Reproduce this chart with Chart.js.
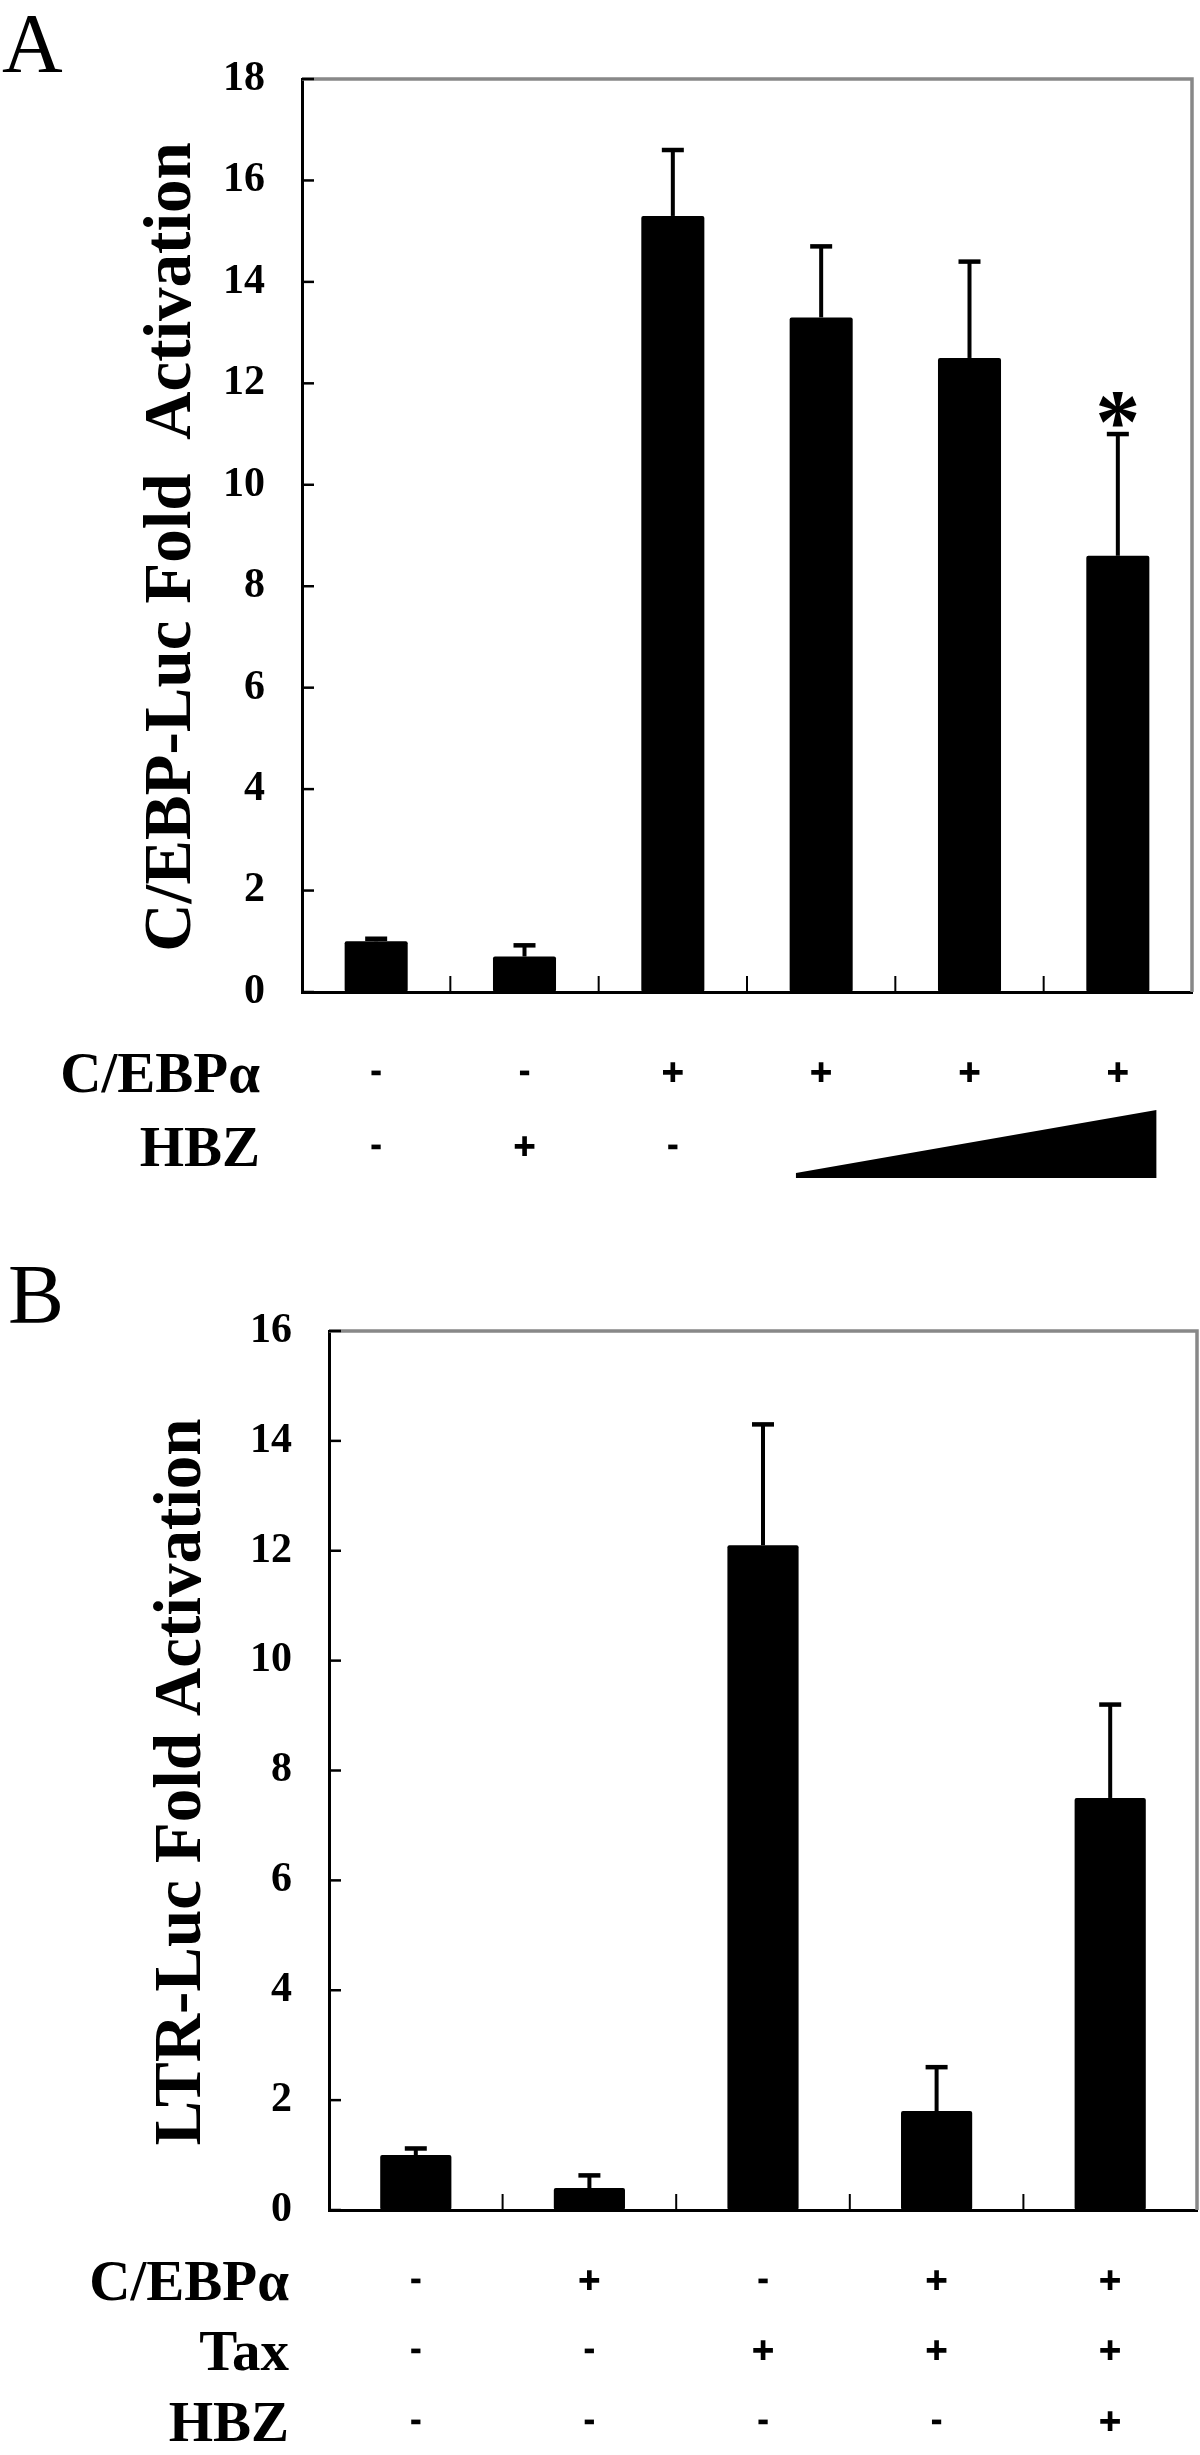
<!DOCTYPE html>
<html>
<head>
<meta charset="utf-8">
<title>C/EBP-Luc and LTR-Luc fold activation</title>
<script src="https://cdn.jsdelivr.net/npm/chart.js@4.4.1/dist/chart.umd.min.js"></script>
<style>
  html, body { margin: 0; padding: 0; background: #fff; }
  #wrap { position: relative; width: 1200px; height: 2455px; }
  canvas { position: absolute; left: 0; }
  #chartA { top: 0; }
  #chartB { top: 1230px; }
</style>
</head>
<body>
<div id="wrap">
  <canvas id="chartA" width="1200" height="1230"></canvas>
  <canvas id="chartB" width="1200" height="1225"></canvas>
</div>
<script>
// Panel A values
const groupsA = ["1", "2", "3", "4", "5", "6"];
const valuesA = [1.0, 0.7, 15.3, 13.3, 12.5, 8.6];
const errorsA = [0.05, 0.22, 1.3, 1.4, 1.9, 2.4];
const cebpRowA = ["-", "-", "+", "+", "+", "+"];
const hbzRowA = ["-", "+", "-", "", "", ""];
const starsA = [false, false, false, false, false, true];
const yMaxA = 18;

// Panel B values
const groupsB = ["1", "2", "3", "4", "5"];
const valuesB = [1.0, 0.4, 12.1, 1.8, 7.5];
const errorsB = [0.12, 0.23, 2.2, 0.8, 1.7];
const cebpRowB = ["-", "+", "-", "+", "+"];
const taxRowB = ["-", "-", "+", "+", "+"];
const hbzRowB = ["-", "-", "-", "-", "+"];
const yMaxB = 16;

const serif = "'Liberation Serif', 'Times New Roman', serif";

// draw a glyph so its ink box has the given width, centred on (cx, cy)
function drawGlyph(ctx, ch, cx, cy, inkWidth, extra) {
    ctx.font = "bold 100px " + serif;
    const m = ctx.measureText(ch);
    const w = m.actualBoundingBoxRight + m.actualBoundingBoxLeft;
    const size = Math.round(100 * inkWidth / w);
    ctx.font = "bold " + size + "px " + serif;
    const m2 = ctx.measureText(ch);
    ctx.textAlign = "center";
    ctx.textBaseline = "alphabetic";
    const y = cy + (m2.actualBoundingBoxAscent - m2.actualBoundingBoxDescent) / 2;
    ctx.fillText(ch, cx, y);
    if (extra) {
        // thicken the thin glyph strokes
        ctx.lineWidth = extra;
        ctx.strokeText(ch, cx, y);
    }
}

// draws everything around the bars: frame, inner ticks, error bars, labels, +/- rows
const figurePlugin = {
    id: "figure",
    afterDatasetsDraw(chart, args, opts) {
        const ctx = chart.ctx;
        const xs = chart.scales.x;
        const ys = chart.scales.y;
        const area = chart.chartArea;
        const ds = chart.data.datasets[0];
        const meta = chart.getDatasetMeta(0);
        ctx.save();

        // gray top/right frame
        ctx.strokeStyle = "#888";
        ctx.lineWidth = 3.5;
        ctx.beginPath();
        ctx.moveTo(area.left, area.top);
        ctx.lineTo(area.right, area.top);
        ctx.lineTo(area.right, area.bottom);
        ctx.stroke();

        // inward y ticks
        ctx.strokeStyle = "#000";
        ctx.lineWidth = 2.5;
        ys.ticks.forEach(t => {
            const py = ys.getPixelForValue(t.value);
            ctx.beginPath();
            ctx.moveTo(area.left, py);
            ctx.lineTo(area.left + 12, py);
            ctx.stroke();
        });

        // category separators on the x axis
        ctx.lineWidth = 2;
        for (let i = 1; i < ds.data.length; i++) {
            const px = (xs.getPixelForValue(i - 1) + xs.getPixelForValue(i)) / 2;
            ctx.beginPath();
            ctx.moveTo(px, area.bottom);
            ctx.lineTo(px, area.bottom - 16);
            ctx.stroke();
        }

        // error bars (upper only)
        ctx.fillStyle = "#000";
        meta.data.forEach((bar, i) => {
            const top = ys.getPixelForValue(ds.data[i] + ds.errors[i]);
            ctx.lineWidth = 4;
            ctx.beginPath();
            ctx.moveTo(bar.x, bar.y);
            ctx.lineTo(bar.x, top);
            ctx.stroke();
            ctx.lineWidth = 4.5;
            ctx.beginPath();
            ctx.moveTo(bar.x - 11, top);
            ctx.lineTo(bar.x + 11, top);
            ctx.stroke();

            if (ds.stars && ds.stars[i]) {
                drawGlyph(ctx, "*", bar.x, top - 25, 38, 0);
            }
        });

        // panel letter
        ctx.textAlign = "left";
        ctx.textBaseline = "alphabetic";
        ctx.font = "84px " + serif;
        ctx.fillText(opts.letter, opts.letterX, opts.letterY);

        // y axis title
        ctx.save();
        ctx.font = "bold 67px " + serif;
        ctx.translate(opts.titleX, opts.titleY);
        ctx.rotate(-Math.PI / 2);
        ctx.textAlign = "center";
        ctx.fillText(opts.title, 0, 0);
        ctx.restore();

        // condition rows
        ctx.strokeStyle = "#000";
        opts.rows.forEach(row => {
            ctx.font = "bold 57px " + serif;
            ctx.textAlign = "right";
            ctx.textBaseline = "alphabetic";
            ctx.fillText(row.label, opts.labelRight, row.y);
            row.marks.forEach((mk, i) => {
                if (!mk) return;
                if (mk === "+") drawGlyph(ctx, mk, xs.getPixelForValue(i), row.y - 20, 18, 2);
                else drawGlyph(ctx, mk, xs.getPixelForValue(i), row.y - 20, 7, 2.5);
            });
        });

        // increasing HBZ wedge
        if (opts.wedge) {
            const w = opts.wedge;
            const catW = xs.getPixelForValue(1) - xs.getPixelForValue(0);
            const x0 = xs.getPixelForValue(w.from) + w.leftOff * catW;
            const x1 = xs.getPixelForValue(w.to) + w.rightOff * catW;
            ctx.beginPath();
            ctx.moveTo(x0, w.bottom);
            ctx.lineTo(x0, w.bottom - w.tip);
            ctx.lineTo(x1, w.bottom - w.height);
            ctx.lineTo(x1, w.bottom);
            ctx.closePath();
            ctx.fill();
        }
        ctx.restore();
    }
};

function makeChart(id, labels, values, errors, stars, yMax, box, fig, barPct) {
    const canvas = document.getElementById(id);
    return new Chart(canvas, {
        type: "bar",
        data: {
            labels: labels,
            datasets: [{
                data: values,
                errors: errors,
                stars: stars,
                backgroundColor: "#000",
                borderRadius: 2,
                borderSkipped: false,
                barPercentage: barPct,
                categoryPercentage: 1
            }]
        },
        options: {
            responsive: false,
            animation: false,
            devicePixelRatio: 1,
            layout: {
                padding: { top: box.top, right: canvas.width - box.right, bottom: canvas.height - box.bottom, left: 0 }
            },
            plugins: {
                legend: { display: false },
                tooltip: { enabled: false },
                figure: fig
            },
            scales: {
                x: {
                    grid: { display: false, drawTicks: false },
                    ticks: { display: false },
                    border: { color: "#000", width: 3 },
                    afterFit(scale) { scale.height = 0; }
                },
                y: {
                    min: 0,
                    max: yMax,
                    grid: { display: false, drawTicks: false },
                    border: { color: "#000", width: 3 },
                    ticks: {
                        stepSize: 2,
                        padding: 37,
                        color: "#000",
                        font: { family: serif, size: 42, weight: "bold" }
                    },
                    afterFit(scale) { scale.width = box.left; }
                }
            }
        },
        plugins: [figurePlugin]
    });
}

makeChart("chartA", groupsA, valuesA, errorsA, starsA, yMaxA,
    { left: 302, right: 1192, top: 79, bottom: 992 },
    {
        letter: "A", letterX: 2, letterY: 72,
        title: "C/EBP-Luc Fold  Activation", titleX: 190, titleY: 547,
        labelRight: 260,
        rows: [
            { label: "C/EBPα", marks: cebpRowA, y: 1092 },
            { label: "HBZ", marks: hbzRowA, y: 1166 }
        ],
        wedge: { from: 3, to: 5, leftOff: -0.17, rightOff: 0.26, bottom: 1178, tip: 5, height: 68 }
    }, 0.425);

makeChart("chartB", groupsB, valuesB, errorsB, null, yMaxB,
    { left: 329, right: 1197, top: 101, bottom: 980 },
    {
        letter: "B", letterX: 8, letterY: 93,
        title: "LTR-Luc Fold Activation", titleX: 200, titleY: 552,
        labelRight: 289,
        rows: [
            { label: "C/EBPα", marks: cebpRowB, y: 1070 },
            { label: "Tax", marks: taxRowB, y: 1140 },
            { label: "HBZ", marks: hbzRowB, y: 1211 }
        ],
        wedge: null
    }, 0.41);
</script>
</body>
</html>
